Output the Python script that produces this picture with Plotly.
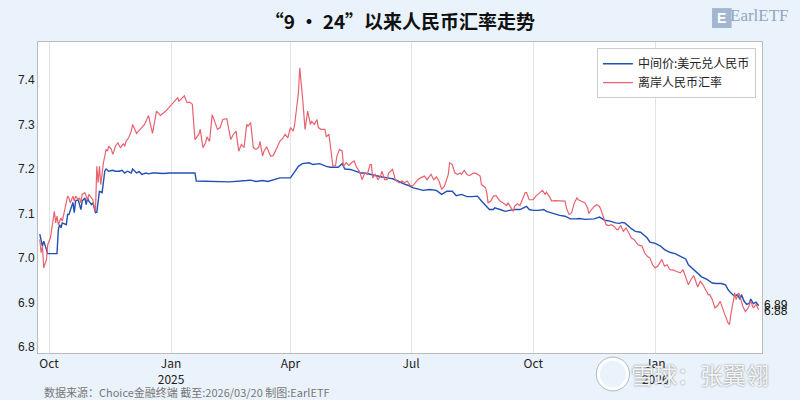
import plotly.graph_objects as go

mid_dates = ["2024-09-24","2024-09-25","2024-09-26","2024-09-27","2024-09-29","2024-09-30","2024-10-07","2024-10-08","2024-10-09","2024-10-10","2024-10-11","2024-10-14","2024-10-15","2024-10-16","2024-10-19","2024-10-20","2024-10-21","2024-10-23","2024-10-24","2024-10-25","2024-10-26","2024-10-28","2024-10-29","2024-10-30","2024-10-31","2024-11-02","2024-11-03","2024-11-04","2024-11-05","2024-11-06","2024-11-07","2024-11-08","2024-11-10","2024-11-11","2024-11-12","2024-11-13","2024-11-15","2024-11-18","2024-11-20","2024-11-23","2024-11-25","2024-11-27","2024-11-29","2024-12-02","2024-12-03","2024-12-06","2024-12-08","2024-12-10","2024-12-13","2024-12-15","2024-12-18","2024-12-21","2024-12-26","2024-12-31","2025-01-12","2025-01-19","2025-01-20","2025-02-03","2025-02-14","2025-02-27","2025-03-02","2025-03-06","2025-03-11","2025-03-15","2025-03-19","2025-03-24","2025-04-01","2025-04-03","2025-04-07","2025-04-10","2025-04-15","2025-04-18","2025-04-23","2025-04-28","2025-05-01","2025-05-07","2025-05-10","2025-05-12","2025-05-16","2025-05-20","2025-05-24","2025-05-27","2025-05-31","2025-06-04","2025-06-09","2025-06-13","2025-06-17","2025-06-21","2025-06-25","2025-06-29","2025-07-02","2025-07-05","2025-07-10","2025-07-15","2025-07-20","2025-07-24","2025-07-28","2025-08-01","2025-08-04","2025-08-08","2025-08-12","2025-08-16","2025-08-20","2025-08-23","2025-08-27","2025-08-29","2025-09-01","2025-09-02","2025-09-06","2025-09-10","2025-09-13","2025-09-17","2025-09-21","2025-09-24","2025-09-26","2025-09-28","2025-10-01","2025-10-05","2025-10-09","2025-10-11","2025-10-14","2025-10-18","2025-10-21","2025-10-25","2025-10-29","2025-11-02","2025-11-05","2025-11-09","2025-11-13","2025-11-16","2025-11-20","2025-11-24","2025-11-28","2025-12-02","2025-12-05","2025-12-07","2025-12-09","2025-12-12","2025-12-14","2025-12-17","2025-12-21","2025-12-23","2025-12-26","2025-12-28","2026-01-01","2026-01-05","2026-01-08","2026-01-12","2026-01-16","2026-01-20","2026-01-24","2026-01-26","2026-01-30","2026-02-01","2026-02-05","2026-02-09","2026-02-13","2026-02-16","2026-02-20","2026-02-23","2026-02-25","2026-02-27","2026-03-02","2026-03-04","2026-03-06","2026-03-07","2026-03-09","2026-03-11","2026-03-13","2026-03-14","2026-03-16","2026-03-18","2026-03-20"]
mid_values = [7.054,7.042,7.027,7.038,7.019,7.010,7.010,7.064,7.075,7.068,7.079,7.075,7.098,7.098,7.125,7.102,7.128,7.131,7.120,7.109,7.128,7.135,7.120,7.135,7.128,7.120,7.124,7.109,7.102,7.103,7.135,7.150,7.147,7.176,7.195,7.200,7.195,7.197,7.195,7.195,7.197,7.191,7.195,7.191,7.200,7.191,7.194,7.188,7.191,7.189,7.191,7.191,7.190,7.191,7.191,7.191,7.173,7.172,7.171,7.174,7.175,7.172,7.174,7.172,7.175,7.180,7.180,7.188,7.206,7.212,7.214,7.210,7.212,7.206,7.204,7.204,7.212,7.200,7.199,7.195,7.191,7.191,7.188,7.185,7.182,7.180,7.178,7.173,7.167,7.163,7.158,7.156,7.152,7.154,7.152,7.143,7.150,7.150,7.140,7.143,7.138,7.138,7.139,7.128,7.116,7.109,7.109,7.113,7.109,7.105,7.107,7.109,7.109,7.113,7.116,7.109,7.107,7.107,7.109,7.105,7.102,7.098,7.096,7.094,7.088,7.088,7.089,7.087,7.087,7.088,7.092,7.085,7.083,7.079,7.078,7.080,7.079,7.071,7.066,7.060,7.058,7.053,7.045,7.036,7.033,7.027,7.019,7.013,7.010,7.004,6.998,6.985,6.974,6.967,6.958,6.952,6.944,6.943,6.943,6.940,6.929,6.922,6.914,6.918,6.907,6.918,6.903,6.896,6.899,6.908,6.898,6.901,6.893]

cnh_dates = ["2024-09-24","2024-09-25","2024-09-26","2024-09-27","2024-09-29","2024-09-30","2024-10-02","2024-10-05","2024-10-06","2024-10-07","2024-10-08","2024-10-10","2024-10-11","2024-10-12","2024-10-13","2024-10-15","2024-10-16","2024-10-17","2024-10-19","2024-10-20","2024-10-21","2024-10-23","2024-10-24","2024-10-25","2024-10-26","2024-10-28","2024-10-29","2024-10-30","2024-10-31","2024-11-02","2024-11-03","2024-11-04","2024-11-05","2024-11-06","2024-11-07","2024-11-08","2024-11-09","2024-11-11","2024-11-12","2024-11-13","2024-11-14","2024-11-15","2024-11-17","2024-11-18","2024-11-19","2024-11-20","2024-11-22","2024-11-23","2024-11-24","2024-11-26","2024-11-27","2024-11-28","2024-11-30","2024-12-02","2024-12-03","2024-12-06","2024-12-09","2024-12-12","2024-12-15","2024-12-18","2024-12-21","2024-12-24","2024-12-28","2024-12-31","2025-01-03","2025-01-06","2025-01-07","2025-01-10","2025-01-11","2025-01-13","2025-01-15","2025-01-17","2025-01-19","2025-01-22","2025-01-23","2025-01-25","2025-01-27","2025-01-28","2025-01-30","2025-02-01","2025-02-03","2025-02-05","2025-02-07","2025-02-09","2025-02-12","2025-02-15","2025-02-17","2025-02-19","2025-02-21","2025-02-23","2025-02-25","2025-02-27","2025-02-28","2025-03-02","2025-03-04","2025-03-06","2025-03-08","2025-03-09","2025-03-11","2025-03-12","2025-03-14","2025-03-16","2025-03-17","2025-03-19","2025-03-22","2025-03-24","2025-03-26","2025-03-28","2025-03-30","2025-03-31","2025-04-01","2025-04-03","2025-04-04","2025-04-07","2025-04-08","2025-04-10","2025-04-12","2025-04-14","2025-04-16","2025-04-17","2025-04-19","2025-04-21","2025-04-22","2025-04-24","2025-04-27","2025-04-28","2025-04-30","2025-05-03","2025-05-05","2025-05-06","2025-05-08","2025-05-10","2025-05-11","2025-05-13","2025-05-15","2025-05-17","2025-05-19","2025-05-21","2025-05-23","2025-05-25","2025-05-27","2025-05-29","2025-05-31","2025-06-01","2025-06-02","2025-06-04","2025-06-06","2025-06-08","2025-06-09","2025-06-11","2025-06-13","2025-06-14","2025-06-16","2025-06-17","2025-06-18","2025-06-19","2025-06-20","2025-06-22","2025-06-24","2025-06-26","2025-06-28","2025-06-30","2025-07-02","2025-07-04","2025-07-06","2025-07-08","2025-07-11","2025-07-13","2025-07-15","2025-07-16","2025-07-18","2025-07-20","2025-07-22","2025-07-24","2025-07-26","2025-07-28","2025-07-29","2025-07-30","2025-08-01","2025-08-03","2025-08-05","2025-08-07","2025-08-08","2025-08-10","2025-08-12","2025-08-14","2025-08-17","2025-08-19","2025-08-22","2025-08-23","2025-08-26","2025-08-27","2025-08-28","2025-08-30","2025-09-01","2025-09-03","2025-09-06","2025-09-08","2025-09-11","2025-09-12","2025-09-14","2025-09-16","2025-09-17","2025-09-19","2025-09-21","2025-09-23","2025-09-25","2025-09-26","2025-09-28","2025-10-01","2025-10-03","2025-10-06","2025-10-08","2025-10-10","2025-10-11","2025-10-13","2025-10-15","2025-10-17","2025-10-20","2025-10-22","2025-10-25","2025-10-26","2025-10-28","2025-10-30","2025-11-01","2025-11-03","2025-11-04","2025-11-06","2025-11-09","2025-11-11","2025-11-12","2025-11-14","2025-11-16","2025-11-18","2025-11-20","2025-11-21","2025-11-23","2025-11-25","2025-11-27","2025-11-29","2025-12-01","2025-12-03","2025-12-04","2025-12-06","2025-12-08","2025-12-10","2025-12-12","2025-12-14","2025-12-16","2025-12-17","2025-12-19","2025-12-22","2025-12-24","2025-12-26","2025-12-28","2025-12-30","2026-01-01","2026-01-03","2026-01-05","2026-01-06","2026-01-08","2026-01-10","2026-01-12","2026-01-15","2026-01-17","2026-01-20","2026-01-22","2026-01-24","2026-01-26","2026-01-28","2026-01-30","2026-02-01","2026-02-02","2026-02-04","2026-02-06","2026-02-08","2026-02-10","2026-02-11","2026-02-13","2026-02-15","2026-02-17","2026-02-19","2026-02-20","2026-02-22","2026-02-25","2026-02-26","2026-02-27","2026-03-01","2026-03-02","2026-03-03","2026-03-05","2026-03-07","2026-03-08","2026-03-10","2026-03-12","2026-03-14","2026-03-16","2026-03-18","2026-03-20"]
cnh_values = [7.042,7.012,7.027,6.978,6.997,7.030,7.045,7.105,7.079,7.094,7.075,7.090,7.083,7.098,7.113,7.139,7.135,7.124,7.139,7.128,7.139,7.131,7.135,7.124,7.143,7.147,7.139,7.131,7.143,7.135,7.131,7.116,7.105,7.206,7.169,7.206,7.165,7.214,7.233,7.244,7.240,7.251,7.244,7.233,7.240,7.251,7.259,7.251,7.248,7.257,7.251,7.262,7.270,7.285,7.300,7.280,7.290,7.300,7.320,7.280,7.330,7.320,7.330,7.340,7.350,7.360,7.352,7.360,7.364,7.349,7.350,7.345,7.266,7.278,7.289,7.248,7.259,7.272,7.262,7.322,7.307,7.289,7.293,7.311,7.313,7.266,7.278,7.285,7.240,7.255,7.248,7.300,7.296,7.304,7.248,7.244,7.248,7.262,7.229,7.240,7.250,7.236,7.229,7.230,7.251,7.262,7.268,7.278,7.270,7.281,7.293,7.285,7.296,7.371,7.427,7.364,7.289,7.330,7.300,7.307,7.300,7.311,7.293,7.289,7.289,7.272,7.278,7.206,7.208,7.229,7.244,7.240,7.206,7.214,7.208,7.214,7.218,7.203,7.195,7.176,7.191,7.188,7.210,7.210,7.180,7.188,7.176,7.185,7.195,7.176,7.176,7.191,7.195,7.199,7.188,7.176,7.173,7.169,7.173,7.169,7.173,7.164,7.161,7.169,7.176,7.180,7.184,7.176,7.184,7.188,7.176,7.182,7.173,7.154,7.161,7.180,7.188,7.214,7.210,7.191,7.188,7.191,7.188,7.197,7.188,7.185,7.191,7.190,7.184,7.165,7.158,7.147,7.124,7.128,7.139,7.140,7.128,7.124,7.118,7.124,7.115,7.105,7.116,7.122,7.118,7.131,7.147,7.147,7.131,7.131,7.139,7.147,7.152,7.143,7.148,7.139,7.128,7.129,7.128,7.128,7.128,7.113,7.098,7.102,7.124,7.135,7.131,7.128,7.124,7.113,7.100,7.109,7.116,7.120,7.116,7.109,7.094,7.075,7.073,7.075,7.071,7.064,7.064,7.073,7.060,7.068,7.057,7.045,7.042,7.038,7.030,7.027,7.012,7.004,7.000,6.985,6.978,6.982,6.993,6.997,6.982,6.985,6.974,6.973,6.970,6.967,6.974,6.959,6.940,6.952,6.961,6.944,6.935,6.948,6.940,6.929,6.918,6.918,6.907,6.888,6.893,6.903,6.893,6.877,6.854,6.851,6.873,6.907,6.922,6.907,6.922,6.903,6.892,6.880,6.888,6.903,6.888,6.896,6.884]

tick_dates = ["2024-10-01", "2025-01-01", "2025-04-01", "2025-07-01", "2025-10-01", "2026-01-01"]
tick_labels = ["Oct", "Jan<br>2025", "Apr", "Jul", "Oct", "Jan<br>2026"]
series_names = ["中间价:美元兑人民币", "离岸人民币汇率"]
end_labels = ["6.89", "6.88"]

BLUE = "#2150B4"
RED = "#E8636F"
FONT = "Noto Sans CJK SC"

fig = go.Figure()
fig.add_trace(go.Scatter(x=mid_dates, y=mid_values, mode="lines", name=series_names[0],
                         line=dict(color=BLUE, width=1.4)))
fig.add_trace(go.Scatter(x=cnh_dates, y=cnh_values, mode="lines", name=series_names[1],
                         line=dict(color=RED, width=1.2)))

fig.add_annotation(x=mid_dates[-1], y=mid_values[-1], text=end_labels[0], showarrow=False,
                   xanchor="left", yanchor="middle", xshift=3, yshift=1,
                   font=dict(family="Liberation Sans", size=12, color="#111"))
fig.add_annotation(x=cnh_dates[-1], y=cnh_values[-1], text=end_labels[1], showarrow=False,
                   xanchor="left", yanchor="middle", xshift=3, yshift=-1,
                   font=dict(family="Liberation Sans", size=12, color="#111"))

# source note
fig.add_annotation(xref="paper", yref="paper", x=0.005, y=-0.127, xanchor="left", yanchor="middle",
                   text="数据来源：Choice金融终端 截至:2026/03/20 制图:EarlETF", showarrow=False,
                   font=dict(family=FONT, size=11, color="#777777"))
# logo (top right)
fig.add_shape(type="rect", xref="paper", yref="paper", x0=0.931, x1=0.958, y0=1.045, y1=1.109,
              fillcolor="#A3B6CF", line=dict(width=0))
fig.add_annotation(xref="paper", yref="paper", x=0.9445, y=1.077, xanchor="center", yanchor="middle",
                   text="<b>E</b>", showarrow=False,
                   font=dict(family="Liberation Sans", size=14, color="#FFFFFF"))
fig.add_annotation(xref="paper", yref="paper", x=1.04, y=1.085, xanchor="right", yanchor="middle",
                   text="EarlETF", showarrow=False,
                   font=dict(family="Liberation Sans Narrow", size=17, color="#8EA6C4"))
# watermark
fig.add_shape(type="circle", xref="paper", yref="paper", x0=0.774, x1=0.814, y0=-0.115, y1=-0.02,
              line=dict(color="rgba(255,255,255,0.95)", width=3), fillcolor="rgba(0,0,0,0)")
fig.add_shape(type="circle", xref="paper", yref="paper", x0=0.771, x1=0.817, y0=-0.122, y1=-0.013,
              line=dict(color="rgba(150,150,150,0.6)", width=1), fillcolor="rgba(0,0,0,0)")
fig.add_annotation(xref="paper", yref="paper", x=1.012, y=-0.066, xanchor="right", yanchor="middle",
                   text="雪球：张翼翎", showarrow=False,
                   font=dict(family=FONT, size=23, color="rgba(255,255,255,0.92)",
                             shadow="0px 0px 2px #666"))

fig.update_layout(
    width=800, height=400,
    margin=dict(l=38, r=38, t=42, b=47),
    paper_bgcolor="#EAF3FB",
    plot_bgcolor="#FFFFFF",
    font=dict(family=FONT, size=12, color="#222"),
    title=dict(text="<b>“9 • 24”以来人民币汇率走势</b>", x=0.5, xanchor="center",
               y=0.945, yanchor="middle", yref="container",
               font=dict(family=FONT, size=19, color="#111")),
    showlegend=True,
    legend=dict(x=0.772, y=0.98, xanchor="left", yanchor="top",
                bgcolor="#FFFFFF", bordercolor="#CCCCCC", borderwidth=1,
                font=dict(family=FONT, size=12, color="#222"),
                tracegroupgap=0, itemwidth=30),
    xaxis=dict(type="date", range=["2024-09-22 16:00", "2026-03-22 12:00"],
               tickvals=tick_dates, ticktext=tick_labels,
               showgrid=True, gridcolor="#E3E3E3", gridwidth=1,
               showline=True, linecolor="#BBBBBB", linewidth=1, mirror=True,
               ticks="", tickfont=dict(family=FONT, size=12, color="#222")),
    yaxis=dict(range=[6.787, 7.485], dtick=0.1, tickformat=".1f",
               showgrid=False, zeroline=False,
               showline=True, linecolor="#BBBBBB", linewidth=1, mirror=True,
               ticks="", tickfont=dict(family="Liberation Sans", size=12, color="#222")),
)

fig.write_html("out.html", config={"displayModeBar": False},
               post_script="document.body.style.margin='0';document.body.style.overflow='hidden';")
